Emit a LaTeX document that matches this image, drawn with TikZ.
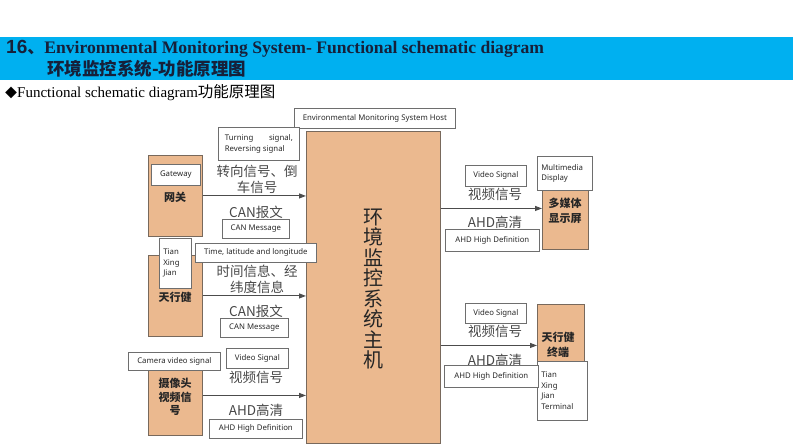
\documentclass[tikz,border=0pt]{standalone}
\usepackage{fontspec}
\setmainfont{Liberation Serif}
\newfontfamily\cjk{Noto Sans CJK SC}
\newfontfamily\lblfont{Noto Sans}
\newfontfamily\hsans{Liberation Sans}
\usetikzlibrary{arrows.meta}
\definecolor{band}{RGB}{0,176,240}
\definecolor{titlecol}{RGB}{22,32,58}
\definecolor{boxfill}{RGB}{235,185,143}
\definecolor{boxline}{RGB}{120,105,92}
\definecolor{lblline}{RGB}{110,110,110}
\definecolor{txt}{RGB}{40,40,40}
\tikzset{
  obox/.style={draw=boxline, fill=boxfill, line width=0.9pt, anchor=north west, inner sep=0pt},
  lbl/.style={draw=lblline, fill=white, line width=0.7pt, anchor=north west, inner sep=2pt,
    font=\lblfont\fontsize{7.8}{10.5}\selectfont, text=txt},
  cjklbl/.style={font=\cjk\fontsize{13.5}{16}\selectfont, text=black!72, align=center, inner sep=0pt},
  boxtxt/.style={font=\cjk\bfseries\fontsize{11}{14.5}\selectfont, text=black!85, align=center, inner sep=0pt},
  arr/.style={-{Triangle[length=7pt,width=5pt]}, draw=black!70, line width=1pt},
}
\begin{document}
\begin{tikzpicture}[x=1pt,y=-1pt]
\useasboundingbox (0,0) rectangle (793,446);
% header band
\fill[band] (0,37) rectangle (793,80);
\node[anchor=base west, inner sep=0pt, text=titlecol] (t1) at (6,54) {\hsans\bfseries\fontsize{19}{19}\selectfont 16{\cjk\fontsize{17}{17}\selectfont 、}\rmfamily\fontsize{17.6}{17}\selectfont Environmental Monitoring System- Functional schematic diagram};
\node[anchor=base west, inner sep=0pt, text=titlecol, font=\cjk\bfseries\fontsize{17.5}{17}\selectfont] (t2) at (47,75.5) {环境监控系统-功能原理图};
\node[anchor=base west, inner sep=0pt] (t3) at (5,98) {{\cjk\fontsize{12}{12}\selectfont ◆}\fontsize{15}{15}\selectfont Functional schematic diagram{\cjk\fontsize{15.5}{15}\selectfont 功能原理图}};

% host
\node[obox, minimum width=134, minimum height=312] (host) at (306,131) {};
\node[font=\cjk\fontsize{20}{20.5}\selectfont, align=center, inner sep=0pt, text=black!85] (hostt) at (373,289) {环\\境\\监\\控\\系\\统\\主\\机};
\node[lbl, minimum width=161, minimum height=20] (hostl) at (294,108) {Environmental Monitoring System Host};

% gateway
\node[obox, minimum width=54, minimum height=81] (gw) at (148,155) {};
\node[lbl, minimum width=49, minimum height=21] (gwl) at (151,164) {Gateway};
\node[boxtxt] (gwt) at (175,197) {网关};
\draw[arr] (gw.east) -- (host.west |- gw.east);
\node[lbl, minimum width=81, minimum height=33, align=left] (tsl) at (218,127) {\makebox[68pt][s]{Turning\hfill signal,}\\Reversing signal};
\node[cjklbl] (ts) at (257,179) {转向信号、倒\\车信号};
\node[cjklbl] (can1) at (256,212) {CAN报文};
\node[lbl, minimum width=67, minimum height=19] (can1l) at (222,219) {CAN Message};

% tianxingjian
\node[obox, minimum width=54, minimum height=81] (txj) at (148,255) {};
\node[lbl, minimum width=32, minimum height=50, align=left, text width=24pt] (txjl) at (159,238) {Tian\\Xing\\Jian};
\node[boxtxt] (txjt) at (175,297) {天行健};
\draw[arr] (txj.east) -- (host.west |- txj.east);
\node[cjklbl] (tl) at (257,279) {时间信息、经\\纬度信息};
\node[lbl, minimum width=121, minimum height=19] (tll) at (195,243) {Time, latitude and longitude};
\node[cjklbl] (can2) at (256,311) {CAN报文};
\node[lbl, minimum width=68, minimum height=19] (can2l) at (220,318) {CAN Message};

% camera
\node[obox, minimum width=54, minimum height=80] (cam) at (148,355) {};
\node[lbl, minimum width=92, minimum height=18] (caml) at (128,352) {Camera video signal};
\node[boxtxt, font=\cjk\bfseries\fontsize{11}{13.5}\selectfont] (camt) at (175,397) {摄像头\\视频信\\号};
\draw[arr] (cam.east) -- (host.west |- cam.east);
\node[lbl, minimum width=62, minimum height=20] (vs1l) at (226,348) {Video Signal};
\node[cjklbl] (vs1) at (256,377) {视频信号};
\node[cjklbl] (ahd1) at (256,410) {AHD高清};
\node[lbl, minimum width=93, minimum height=19] (ahd1l) at (209,419) {AHD High Definition};

% multimedia display
\node[obox, minimum width=46, minimum height=82] (mm) at (542,167) {};
\node[lbl, minimum width=55, minimum height=34, align=left, text width=47pt] (mml) at (537,156) {Multimedia\\Display};
\node[boxtxt] (mmt) at (565,211) {多媒体\\显示屏};
\draw[arr] (host.east |- mm.west) -- (mm.west);
\node[lbl, minimum width=61, minimum height=21] (vs2l) at (465,165) {Video Signal};
\node[cjklbl] (vs2) at (495,194) {视频信号};
\node[cjklbl] (ahd2) at (495,222) {AHD高清};
\node[lbl, minimum width=94, minimum height=22] (ahd2l) at (445,229) {AHD High Definition};

% terminal
\node[obox, minimum width=47, minimum height=82] (term) at (537,304) {};
\node[boxtxt] (termt) at (558,345) {天行健\\终端};
\node[lbl, minimum width=50, minimum height=59, align=left, text width=42pt] (terml) at (537,361) {Tian\\Xing\\Jian\\Terminal};
\draw[arr] (host.east |- term.west) -- (term.west);
\node[lbl, minimum width=61, minimum height=20] (vs3l) at (465,303) {Video Signal};
\node[cjklbl] (vs3) at (495,331) {视频信号};
\node[cjklbl] (ahd3) at (495,360) {AHD高清};
\node[lbl, minimum width=94, minimum height=22] (ahd3l) at (444,365) {AHD High Definition};
\end{tikzpicture}
\end{document}
